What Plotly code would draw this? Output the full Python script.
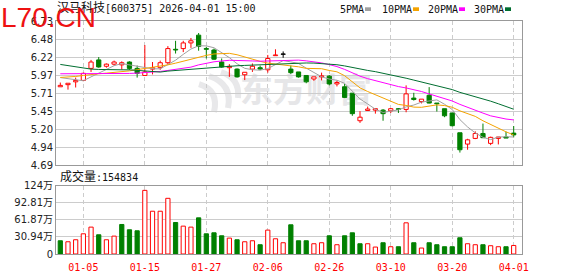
import plotly.graph_objects as go

# ---------------- data ----------------
dates = [
    "2025-12-29", "2025-12-30", "2025-12-31",
    "2026-01-05", "2026-01-06", "2026-01-07", "2026-01-08", "2026-01-09",
    "2026-01-12", "2026-01-13", "2026-01-14", "2026-01-15", "2026-01-16",
    "2026-01-19", "2026-01-20", "2026-01-21", "2026-01-22", "2026-01-23",
    "2026-01-26", "2026-01-27", "2026-01-28", "2026-01-29", "2026-01-30",
    "2026-02-02", "2026-02-03", "2026-02-04", "2026-02-05", "2026-02-06",
    "2026-02-09", "2026-02-10", "2026-02-11", "2026-02-12", "2026-02-13",
    "2026-02-24", "2026-02-25", "2026-02-26", "2026-02-27",
    "2026-03-02", "2026-03-03", "2026-03-04", "2026-03-05", "2026-03-06",
    "2026-03-09", "2026-03-10", "2026-03-11", "2026-03-12", "2026-03-13",
    "2026-03-16", "2026-03-17", "2026-03-18", "2026-03-19", "2026-03-20",
    "2026-03-23", "2026-03-24", "2026-03-25", "2026-03-26", "2026-03-27",
    "2026-03-30", "2026-03-31", "2026-04-01",
]

opens = [5.80, 5.83, 5.87, 5.89, 6.06, 6.18, 6.09, 6.12, 6.11, 6.15,
         6.06, 5.96, 6.05, 6.07, 6.14, 6.33, 6.34, 6.42, 6.53, 6.34,
         6.32, 6.15, 6.07, 6.05, 5.97, 6.05, 6.07, 6.04, 6.24, 6.26,
         6.05, 6.01, 5.96, 5.91, 5.94, 5.95, 5.84, 5.80, 5.71, 5.32,
         5.465, 5.47, 5.47, 5.46, 5.49, 5.48, 5.64, 5.59, 5.68, 5.57,
         5.49, 5.43, 5.15, 4.99, 5.07, 5.14, 5.00, 5.07, 5.09, 5.145]
highs = [5.86, 5.85, 5.93, 6.00, 6.18, 6.22, 6.13, 6.17, 6.16, 6.16,
         6.10, 6.39, 6.15, 6.17, 6.375, 6.45, 6.45, 6.49, 6.56, 6.365,
         6.34, 6.20, 6.12, 6.06, 6.005, 6.13, 6.10, 6.25, 6.33, 6.30,
         6.10, 6.01, 5.965, 5.94, 6.00, 5.965, 5.885, 5.84, 5.71, 5.455,
         5.52, 5.49, 5.485, 5.50, 5.50, 5.82, 5.715, 5.625, 5.795, 5.57,
         5.49, 5.43, 5.15, 5.065, 5.17, 5.28, 5.095, 5.09, 5.165, 5.245]
lows = [5.80, 5.76, 5.79, 5.88, 6.01, 6.07, 6.07, 6.10, 6.04, 6.04,
        5.93, 5.96, 5.975, 6.04, 6.12, 6.27, 6.29, 6.35, 6.31, 6.20,
        6.18, 6.07, 5.94, 5.93, 5.895, 6.01, 6.035, 6.00, 6.24, 6.21,
        5.98, 5.93, 5.85, 5.885, 5.89, 5.82, 5.805, 5.64, 5.39, 5.29,
        5.46, 5.42, 5.32, 5.43, 5.43, 5.44, 5.605, 5.565, 5.565, 5.45,
        5.37, 5.24, 4.87, 4.91, 5.06, 5.075, 4.975, 4.985, 5.075, 5.085]
closes = [5.82, 5.85, 5.89, 5.99, 6.15, 6.08, 6.12, 6.15, 6.14, 6.06,
          5.99, 6.01, 6.07, 6.14, 6.34, 6.32, 6.42, 6.45, 6.37, 6.33,
          6.19, 6.08, 6.09, 5.94, 6.005, 6.09, 6.05, 6.20, 6.25, 6.26,
          6.00, 5.94, 5.87, 5.94, 5.955, 5.84, 5.86, 5.65, 5.42, 5.37,
          5.485, 5.49, 5.42, 5.49, 5.48, 5.70, 5.62, 5.625, 5.57, 5.56,
          5.39, 5.25, 4.91, 5.05, 5.14, 5.08, 5.085, 5.09, 5.075, 5.12]
prev_close = 5.84

# volume in 万 (10k lots)
volumes = [24.0, 22.2, 25.8, 36.6, 48.7, 34.8, 25.8, 32.4, 53.5, 43.9,
           42.1, 115.3, 77.5, 77.5, 100.9, 57.1, 50.5, 48.7, 65.5, 36.6,
           38.4, 33.0, 28.8, 25.8, 22.2, 24.0, 16.8, 43.3, 27.6, 20.4,
           52.9, 24.0, 24.0, 18.6, 20.4, 33.0, 16.8, 33.0, 38.4, 18.6,
           18.6, 12.6, 20.4, 13.2, 13.2, 56.5, 20.4, 10.8, 20.4, 16.8,
           13.2, 13.2, 29.4, 18.6, 16.8, 16.8, 15.0, 13.2, 13.2, 15.4834]

ma5_head = [5.93, 5.915, 5.90, 5.885]
ma10_head = [5.932, 5.937, 5.946, 5.96, 5.975, 5.984, 5.993, 6.003, 6.008]
ma20_head = [5.984, 5.984, 5.979, 5.979, 5.979, 5.979, 5.979, 5.984, 5.984, 5.989,
             5.993, 5.998, 6.008, 6.017, 6.031, 6.045, 6.059, 6.078, 6.11]
ma30_head = [6.116, 6.097, 6.078, 6.059, 6.05, 6.045, 6.04, 6.04, 6.04, 6.04,
             6.031, 6.017, 6.008, 6.008, 6.022, 6.031, 6.04, 6.045, 6.055, 6.069,
             6.078, 6.088, 6.093, 6.097, 6.102, 6.107, 6.111, 6.116, 6.12]

price_ticks = [4.69, 4.945, 5.20, 5.455, 5.71, 5.965, 6.22, 6.475, 6.73]
price_tick_text = ["4.69", "4.94", "5.20", "5.45", "5.71", "5.97", "6.22", "6.48", "6.73"]
vol_ticks = [0, 30.94, 61.87, 92.81, 123.76]
vol_tick_text = ["0", "30.94万", "61.87万", "92.81万", "124万"]
x_tick_dates = ["2026-01-05", "2026-01-15", "2026-01-27", "2026-02-06",
                "2026-02-26", "2026-03-10", "2026-03-20", "2026-04-01"]
x_tick_text = ["01-05", "01-15", "01-27", "02-06", "02-26", "03-10", "03-20", "04-01"]

stock_name = "汉马科技"
stock_code = "600375"
stamp = "2026-04-01 15:00"
ma_names = ["5PMA", "10PMA", "20PMA", "30PMA"]

# ---------------- style ----------------
RED = "#ff0000"
GREEN = "#008000"
BLACK = "#000000"
MA_COLORS = ["#a0a0a0", "#f4a300", "#ff00ff", "#006e30"]
GRID = "#cccccc"
FRAME = "#999999"
W, H = 578, 276
ML, MR, MT, MB = 56, 56, 21, 22
PW, PH = W - ML - MR, H - MT - MB


def pxx(x):
    return (x - ML) / PW


def pxy(y):
    return (H - MB - y) / PH


def ma(head, n):
    out = list(head)
    for i in range(len(head), len(closes)):
        out.append(sum(closes[i - n + 1:i + 1]) / n)
    return out


fig = go.Figure()

# wicks
groups = {"up": [], "down": [], "flat": []}
for d, o, h, l, c in zip(dates, opens, highs, lows, closes):
    g = "up" if c > o else ("down" if c < o else "flat")
    groups[g].append((d, o, h, l, c))

gcol = {"up": RED, "down": GREEN, "flat": BLACK}
for g, rows in groups.items():
    wx, wy = [], []
    for d, o, h, l, c in rows:
        top, bot = max(o, c), min(o, c)
        if h > top:
            wx += [d, d, None]
            wy += [h, top, None]
        if l < bot:
            wx += [d, d, None]
            wy += [bot, l, None]
    fig.add_trace(go.Scatter(x=wx, y=wy, mode="lines", line=dict(color=gcol[g], width=1),
                             hoverinfo="skip", showlegend=False, xaxis="x", yaxis="y"))

# bodies
for g, rows in groups.items():
    if not rows:
        continue
    bx = [r[0] for r in rows]
    base = [min(r[1], r[4]) for r in rows]
    hgt = [max(abs(r[4] - r[1]), 0.004) for r in rows]
    fill = "#ffffff" if g == "up" else gcol[g]
    fig.add_trace(go.Bar(x=bx, y=hgt, base=base, width=0.55,
                         marker=dict(color=fill, line=dict(color=gcol[g], width=1)),
                         hoverinfo="skip", showlegend=False, xaxis="x", yaxis="y"))

# moving averages
for (head, n), col in zip([(ma5_head, 5), (ma10_head, 10), (ma20_head, 20), (ma30_head, 30)], MA_COLORS):
    fig.add_trace(go.Scatter(x=dates, y=ma(head, n), mode="lines", line=dict(color=col, width=1),
                             hoverinfo="skip", showlegend=False, xaxis="x", yaxis="y"))

# volume
prevs = [prev_close] + closes[:-1]
vup = [c >= p for c, p in zip(closes, prevs)]
for flag, fill, lc in [(True, "#ffffff", RED), (False, GREEN, GREEN)]:
    vx = [d for d, f in zip(dates, vup) if f == flag]
    vy = [v for v, f in zip(volumes, vup) if f == flag]
    fig.add_trace(go.Bar(x=vx, y=vy, width=0.55,
                         marker=dict(color=fill, line=dict(color=lc, width=1)),
                         hoverinfo="skip", showlegend=False, xaxis="x2", yaxis="y2"))

xcommon = dict(type="category", categoryorder="array", categoryarray=dates,
               range=[-0.56, 60.08], tickvals=x_tick_dates, ticktext=x_tick_text,
               showgrid=True, gridcolor=GRID, griddash="4px,3px", gridwidth=1,
               showline=True, linecolor=FRAME, linewidth=1, mirror=True,
               zeroline=False, ticks="", fixedrange=True, automargin=False)
ycommon = dict(showgrid=True, gridcolor=GRID, gridwidth=1, showline=True, linecolor=FRAME,
               linewidth=1, mirror=True, zeroline=False, ticks="", fixedrange=True,
               automargin=False,
               tickfont=dict(family="DejaVu Sans, Noto Sans CJK SC", size=10, color="#222222"))

price_bottom = pxy(165.3)
vol_top = pxy(185.7)

fig.update_layout(
    width=W, height=H,
    margin=dict(l=ML, r=MR, t=MT, b=MB, autoexpand=False),
    paper_bgcolor="#ffffff", plot_bgcolor="#ffffff",
    barmode="overlay", showlegend=False,
    xaxis=dict(xcommon, anchor="y", domain=[0, 1], showticklabels=False),
    xaxis2=dict(xcommon, anchor="y2", domain=[0, 1], matches="x", showticklabels=True,
                ticks="outside", ticklen=4, tickcolor="rgba(0,0,0,0)",
                tickfont=dict(family="DejaVu Sans Mono", size=10, color=RED)),
    yaxis=dict(ycommon, domain=[price_bottom, 1], range=[4.69, 6.73],
               tickvals=price_ticks, ticktext=price_tick_text),
    yaxis2=dict(ycommon, domain=[0, vol_top], range=[0, 123.76],
                tickvals=vol_ticks, ticktext=vol_tick_text),
)

anns = []
anns.append(dict(x=pxx(55), y=pxy(8.5), xref="paper", yref="paper", xanchor="left", yanchor="middle",
                 showarrow=False,
                 text=f'<span style="font-size:12px">{stock_name}</span>[{stock_code}] {stamp}',
                 font=dict(family="DejaVu Sans Mono, Noto Sans CJK SC", size=10, color="#111111")))
leg_x = [338, 380, 426, 472]
sq_x = [365, 413, 459, 505]
for name, lx, sx, col in zip(ma_names, leg_x, sq_x, MA_COLORS):
    anns.append(dict(x=pxx(lx), y=pxy(9), xref="paper", yref="paper", xanchor="left", yanchor="middle",
                     showarrow=False, text=name,
                     font=dict(family="DejaVu Sans Mono", size=10, color="#111111")))
    fig.add_shape(type="rect", xref="paper", yref="paper", x0=pxx(sx), x1=pxx(sx + 6),
                  y0=pxy(11), y1=pxy(7.3), fillcolor=col, line=dict(width=0))
anns.append(dict(x=pxx(58), y=pxy(176.5), xref="paper", yref="paper", xanchor="left", yanchor="middle",
                 showarrow=False,
                 text=f'<span style="font-size:12px">成交量</span>:{round(volumes[-1] * 10000)}',
                 font=dict(family="DejaVu Sans Mono, Noto Sans CJK SC", size=10, color="#111111")))
anns.append(dict(x=pxx(-1), y=pxy(17), xref="paper", yref="paper", xanchor="left", yanchor="middle",
                 showarrow=False, text="L70.CN",
                 font=dict(family="Liberation Sans, Arial", size=28, color="#ee1111")))
fig.update_layout(annotations=anns)

# faint watermark logo in the price panel
fig.add_shape(type="rect", xref="paper", yref="paper", x0=pxx(236), x1=pxx(376),
              y0=pxy(113), y1=pxy(72), line=dict(width=0), fillcolor="rgba(0,0,0,0)", layer="below",
              label=dict(text="东方财富", font=dict(family="Noto Sans CJK SC", size=33, color="#e6e6e8",
                                                   weight="bold")))


def ppath(pts):
    s = ""
    for cmd, coords in pts:
        s += cmd + " ".join(f"{pxx(a):.4f},{pxy(b):.4f}" for a, b in coords) + " "
    return s


for p in [[("M", [(199, 84)]), ("Q", [(219, 90), (214, 112)])],
          [("M", [(209, 76)]), ("Q", [(233, 84), (228, 108)])],
          [("M", [(221, 72)]), ("Q", [(240, 78), (238, 98)])]]:
    fig.add_shape(type="path", xref="paper", yref="paper", path=ppath(p),
                  line=dict(color="#e8e8ea", width=6), layer="below")

fig.write_html("out.html")
